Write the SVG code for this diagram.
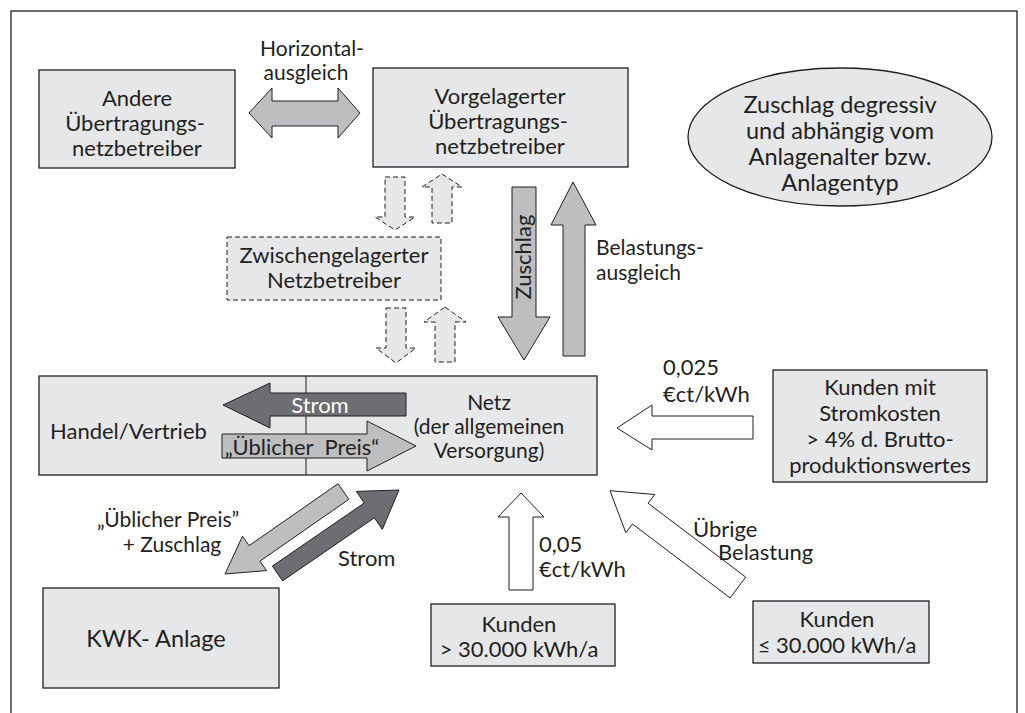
<svg xmlns="http://www.w3.org/2000/svg" width="1025" height="713" viewBox="0 0 1025 713">
<style>
text{font-family:Lato,"Liberation Sans",sans-serif;font-size:22px;fill:#231f20}
.c{text-anchor:middle}
.big{font-size:23.5px}
.sm{font-size:21px}
.box{fill:#e6e7e8;stroke:#231f20;stroke-width:1.3}
.dash{fill:#e6e7e8;stroke:#231f20;stroke-width:1;stroke-dasharray:5 3}
.ga{fill:#bcbec0;stroke:#231f20;stroke-width:1}
.da{fill:#6d6e71;stroke:#231f20;stroke-width:1}
.wa{fill:#fff;stroke:#231f20;stroke-width:1}
</style>
<rect x="11" y="11" width="1006" height="720" fill="#fff" stroke="#231f20" stroke-width="1.3"/>
<g id="andere"><rect class="box" x="39" y="70" width="196" height="98"/>
<text class="c" x="137" y="106">Andere</text><text class="c" x="135" y="131">Übertragungs-</text><text class="c" x="137" y="156">netzbetreiber</text></g>
<g id="vorgelagert"><rect class="box" x="373" y="68" width="255" height="99"/>
<text class="c" x="500" y="104">Vorgelagerter</text><text class="c" x="498" y="129">Übertragungs-</text><text class="c" x="500" y="154">netzbetreiber</text></g>
<g id="zuschlag-info"><ellipse class="box" cx="840" cy="137" rx="152" ry="69"/>
<text class="c big" x="840" y="113">Zuschlag degressiv</text><text class="c big" x="840" y="139">und abhängig vom</text><text class="c big" x="840" y="165">Anlagenalter bzw.</text><text class="c big" x="840" y="191">Anlagentyp</text></g>
<g id="zwischen"><rect class="dash" x="227" y="237" width="214" height="63"/>
<text class="c" x="334" y="263">Zwischengelagerter</text><text class="c" x="334" y="288">Netzbetreiber</text></g>
<g id="netz"><rect class="box" x="39" y="376" width="558" height="99"/><line x1="306" y1="376" x2="306" y2="475" stroke="#231f20" stroke-width="1"/>
<text x="50" y="439">Handel/Vertrieb</text>
<text class="c sm" x="489" y="410">Netz</text><text class="c sm" x="489" y="434">(der allgemeinen</text><text class="c sm" x="489" y="458">Versorgung)</text></g>
<g id="kunden-strom"><rect class="box" x="773" y="370" width="214" height="112"/>
<text class="c" x="880" y="395">Kunden mit</text><text class="c" x="880" y="421">Stromkosten</text><text class="c" x="880" y="447">&gt; 4% d. Brutto-</text><text class="c" x="880" y="473">produktionswertes</text></g>
<g id="kwk"><rect class="box" x="43" y="588" width="236" height="100"/><text class="c big" x="156" y="647">KWK- Anlage</text></g>
<g id="kunden-gross"><rect class="box" x="431" y="604" width="184" height="62"/>
<text class="c" x="519" y="632">Kunden</text><text class="c" x="519" y="657">&gt; 30.000 kWh/a</text></g>
<g id="kunden-klein"><rect class="box" x="753" y="601" width="176" height="62"/>
<text class="c" x="837" y="627">Kunden</text><text class="c" x="837" y="653">≤ 30.000 kWh/a</text></g>
<g id="connectors">
<polygon class="ga" points="249,113 272,88 272,101 338,101 338,88 360,113 338,138 338,126 272,126 272,138"/>
<text class="c sm" x="312" y="56">Horizontal-</text><text class="c sm" x="306" y="80">ausgleich</text>
<polygon class="dash" points="385,177 405,177 405,217 415,217 395,230 375,217 385,217"/>
<polygon class="dash" points="442,174 462,187 452,187 452,223 432,223 432,187 422,187"/>
<polygon class="dash" points="386,308 406,308 406,348 416,348 396,363 376,348 386,348"/>
<polygon class="dash" points="445,307 466,322 455,322 455,362 435,362 435,322 424,322"/>
<polygon class="ga" points="512,187 536,187 536,317 550,317 524,360 498,317 512,317"/>
<text class="c" transform="translate(531,257) rotate(-90)">Zuschlag</text>
<polygon class="ga" points="573,182 596,225 585,225 585,356 563,356 563,225 551,225"/>
<text class="sm" x="596" y="255">Belastungs-</text><text class="sm" x="596" y="280">ausgleich</text>
<polygon class="da" points="223,405 270,383 270,393 406,393 406,416 270,416 270,428"/>
<text class="c" x="320" y="413" style="fill:#fff">Strom</text>
<polygon class="ga" points="222,434 367,434 367,421 416,446 367,471 367,458 222,458"/>
<text class="c" x="302" y="455" style="white-space:pre">„Üblicher  Preis“</text>
<polygon class="wa" points="617,428 652,405 652,416 753,416 753,439 652,439 652,450"/>
<text x="663" y="375">0,025</text><text x="663" y="402">€ct/kWh</text>
<polygon class="ga" points="338.1,483.7 249.1,545.6 242.5,536.2 225,574 266.5,570.6 259.9,561.2 348.9,499.3"/>
<text class="c sm" x="168" y="527">„Üblicher Preis”</text><text class="c sm" x="172" y="552">+ Zuschlag</text>
<polygon class="da" points="272.4,566.1 364.2,503 356.3,491.4 399,490 382.3,529.4 374.4,517.8 282.6,580.9"/>
<text x="338" y="566">Strom</text>
<polygon class="wa" points="521,493 544,517 533,517 533,590 509,590 509,517 498,517"/>
<text x="539" y="552">0,05</text><text x="539" y="577">€ct/kWh</text>
<polygon class="wa" points="610,490.7 654.8,494.5 648.1,503.2 745.7,577.1 730.1,597.9 632.5,524 625.8,532.7"/>
<text x="693" y="537">Übrige</text><text x="718" y="560">Belastung</text>
</g>
</svg>
